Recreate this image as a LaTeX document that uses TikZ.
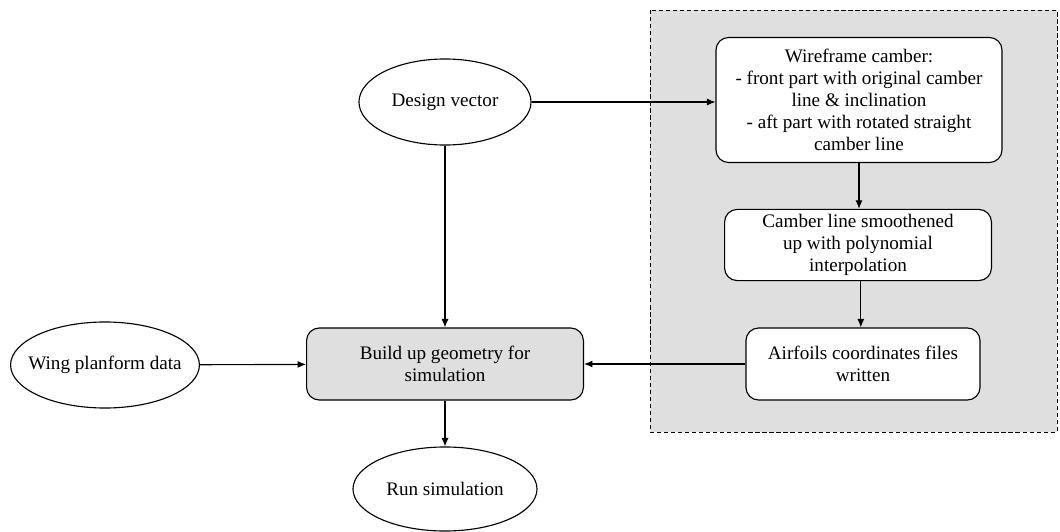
\documentclass[tikz,border=0pt]{standalone}
\usepackage{fontspec}
\setmainfont{Liberation Serif}
\usetikzlibrary{shapes.geometric,arrows.meta}
\definecolor{panelgray}{HTML}{DFDFDF}

\begin{document}
\begin{tikzpicture}[x=0.025cm,y=-0.025cm,line width=0.8pt,
    font=\fontsize{13.6}{15.6}\selectfont,
    >={Latex[length=6pt,width=5pt]},
    datanode/.style={draw, ellipse, inner sep=0pt, align=center},
    procnode/.style={draw, rectangle, rounded corners=9pt, fill=white, inner sep=0pt, align=center}]

    \useasboundingbox (0,0) rectangle (1060,532);

    % dashed panel behind the airfoil steps
    \draw[dashed, dash pattern=on 3pt off 2pt, line width=0.6pt, fill=panelgray] (650,10) rectangle (1057,432);

    \node[datanode, minimum width=4.3cm, minimum height=2.15cm] (design) at (445,102) {Design vector};
    \node[datanode, minimum width=4.72cm, minimum height=2.15cm] (wing) at (105,365) {\makebox[0pt]{Wing planform data}};
    \node[datanode, minimum width=4.6cm, minimum height=2.1cm] (run) at (445,489) {Run simulation};

    \node[procnode, fill=panelgray, minimum width=6.92cm, minimum height=1.8cm] (build) at (445,364)
        {Build up geometry for\\simulation};
    \node[procnode, minimum width=7.15cm, minimum height=3.125cm] (wire) at (859,100)
        {Wireframe camber:\\- front part with original camber\\line \& inclination\\- aft part with rotated straight\\camber line};
    \node[procnode, minimum width=6.67cm, minimum height=1.78cm] (camber) at (858,245)
        {Camber line smoothened\\up with polynomial\\interpolation};
    \node[procnode, minimum width=5.85cm, minimum height=1.8cm] (airfoil) at (863,364)
        {Airfoils coordinates files\\written};

    \draw[->] (design.east) -- (design.east -| wire.west);
    \draw[->] (design) -- (build);
    \draw[->] (wing) -- (build);
    \draw[->] (airfoil) -- (build);
    \draw[->] (build) -- (run);
    \draw[->] (wire.south) -- (wire.south |- camber.north);
    \draw[->] ([xshift=2pt]camber.south) -- ([xshift=2pt]camber.south |- airfoil.north);

\end{tikzpicture}
\end{document}
